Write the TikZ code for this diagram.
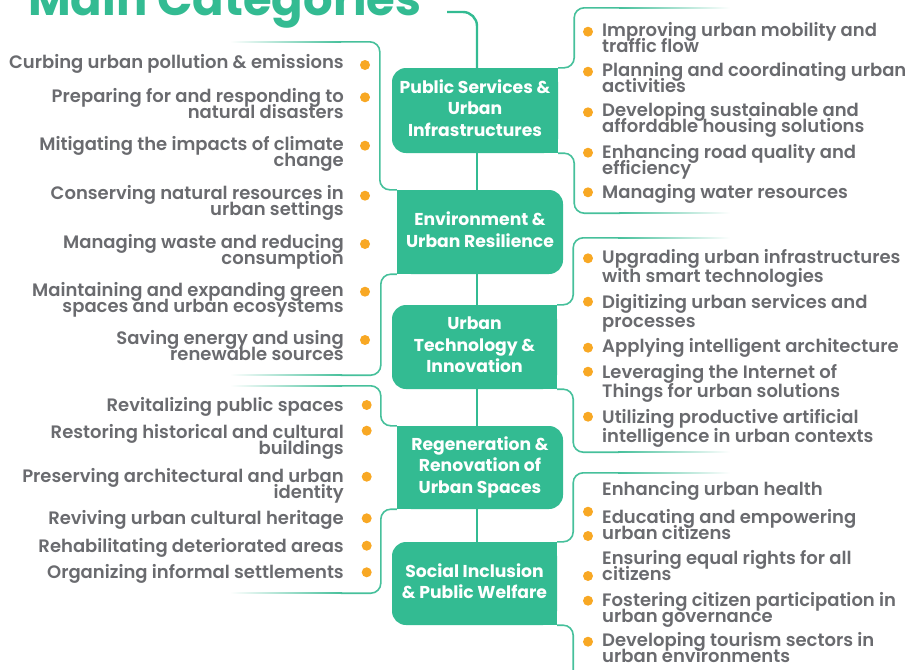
\documentclass[tikz,border=0pt]{standalone}
\usepackage{fontspec}
\setmainfont{Poppins}
\newfontfamily\semib{Poppins SemiBold}
\usetikzlibrary{backgrounds}
\definecolor{grn}{RGB}{51,187,146}
\definecolor{brk}{RGB}{70,192,155}
\definecolor{org}{RGB}{248,168,36}
\definecolor{txt}{RGB}{106,107,111}
\newcommand\fadeR[3]{\shade[left color=brk,right color=white] (#1,#3-0.8) rectangle (#2,#3+0.8);}
\newcommand\fadeL[3]{\shade[left color=white,right color=brk] (#1,#3-0.8) rectangle (#2,#3+0.8);}
\lineskiplimit=-100pt\relax
\begin{document}
\lineskiplimit=-100pt\relax
\begin{tikzpicture}[x=1pt,y=-1pt,
 spineline/.style={draw=grn, line width=2.4pt},
 brkline/.style={draw=brk, line width=1.6pt, rounded corners=10pt},
 catbox/.style={fill=grn, rounded corners=14pt, inner sep=0pt, text=white, align=center, font=\bfseries\fontsize{17.2}{21.5}\selectfont},
 litem/.style={anchor=east, align=right, text=txt, inner sep=0pt, font=\semib\fontsize{18}{16}\selectfont},
 ritem/.style={anchor=west, align=left, text=txt, inner sep=0pt, font=\semib\fontsize{18}{16}\selectfont},
 ritemw/.style={anchor=west, align=left, text=txt, inner sep=0pt, font=\semib\fontsize{18}{19}\selectfont},
 dot/.style={circle, fill=org, inner sep=0pt, minimum size=10pt},
]
\useasboundingbox (0,0) rectangle (906,670);
\clip (0,0) rectangle (906,670);

% title
\node[anchor=base west, inner sep=0pt, text=grn, font=\bfseries\fontsize{46.5}{46.5}\selectfont] (title) at (28,15) {Main Categories};
\coordinate (tstart) at (447,12);
\coordinate (sp) at (477,0);

% category boxes
\node[catbox, minimum width=166pt, minimum height=85pt] (b1) at (475,110.5) {\strut Public Services \&\\Urban\\Infrastructures\strut};
\node[catbox, minimum width=166pt, minimum height=84pt] (b2) at (480,232) {\strut Environment \&\\Urban Resilience\strut};
\node[catbox, minimum width=165pt, minimum height=84pt] (b3) at (474.5,347) {\strut Urban\\Technology \&\\Innovation\strut};
\node[catbox, minimum width=166pt, minimum height=83pt] (b4) at (480,467.5) {\strut Regeneration \&\\Renovation of\\Urban Spaces\strut};
\node[catbox, minimum width=165pt, minimum height=83pt] (b5) at (474.5,583.5) {\strut Social Inclusion\\\& Public Welfare\strut};

\begin{scope}[on background layer]
 \fill[grn] (b1.north east) rectangle ([xshift=-16pt]b1.south east);
 \fill[grn] (b2.north west) rectangle ([xshift=16pt]b2.south west);
 \fill[grn] (b3.north east) rectangle ([xshift=-16pt]b3.south east);
 \fill[grn] (b4.north west) rectangle ([xshift=16pt]b4.south west);
 \fill[grn] (b5.north east) rectangle ([xshift=-16pt]b5.south east);
 % spine
 \draw[spineline, rounded corners=14pt] (tstart) -- (tstart -| sp) -- (b1.north -| sp);
 \draw[spineline] (b1.south -| sp) -- (b2.north -| sp);
 \draw[spineline] (b2.south -| sp) -- (b3.north -| sp);
 \draw[spineline] (b3.south -| sp) -- (b4.north -| sp);
 \draw[spineline] (b4.south -| sp) -- (b5.north -| sp);
\end{scope}

% brackets
\draw[brkline] (b1.north east) -- ++(16,0) -- ++(0,-60) -- ++(46,0) coordinate (rA1);
\fadeR{619}{730}{8}
\draw[brkline] (b1.south east) -- ++(16,0) -- ++(0,60) -- ++(46,0) coordinate (rA2);
\fadeR{619}{730}{213}
\draw[brkline] (b2.north west) -- ++(-17,0) -- ++(0,-148) -- ++(-40,0) coordinate (lB1);
\fadeL{230}{341}{42}
\draw[brkline] (b2.south west) -- ++(-16,0) -- ++(0,101) -- ++(-40,0) coordinate (lB2);
\fadeL{230}{342}{375}
\draw[brkline] (b3.north east) -- ++(16,0) -- ++(0,-67) -- ++(46,0) coordinate (rC1);
\fadeR{618}{730}{238}
\draw[brkline] (b3.south east) -- ++(16,0) -- ++(0,63) -- ++(46,0) coordinate (rC2);
\fadeR{618}{730}{452}
\draw[brkline] (b4.north west) -- ++(-16,0) -- ++(0,-40) -- ++(-40,0) coordinate (lD1);
\fadeL{230}{342}{386}
\draw[brkline] (b4.south west) -- ++(-16,0) -- ++(0,84) -- ++(-40,0) coordinate (lD2);
\fadeL{230}{342}{593}
\draw[brkline] (b5.north east) -- ++(16,0) -- ++(0,-69) -- ++(46,0) coordinate (rE1);
\fadeR{618}{730}{473}
\draw[brkline] (b5.south east) -- ++(16,0) -- ++(0,60) coordinate (rE2);

% left items
\node[litem] (l1) at (344,63.5) {\strut Curbing urban pollution \& emissions\strut};
\node[litem] (l2) at (344,105.5) {\strut Preparing for and responding to\\natural disasters\strut};
\node[litem] (l3) at (344,154) {\strut Mitigating the impacts of climate\\change\strut};
\node[litem] (l4) at (344,202.5) {\strut Conserving natural resources in\\urban settings\strut};
\node[litem] (l5) at (344,251.5) {\strut Managing waste and reducing\\consumption\strut};
\node[litem] (l6) at (344,300) {\strut Maintaining and expanding green\\spaces and urban ecosystems\strut};
\node[litem] (l7) at (344,348) {\strut Saving energy and using\\renewable sources\strut};
\node[litem] (l8) at (344,406.8) {\strut Revitalizing public spaces\strut};
\node[litem] (l9) at (344,442) {\strut Restoring historical and cultural\\buildings\strut};
\node[litem] (l10) at (344,485.5) {\strut Preserving architectural and urban\\identity\strut};
\node[litem] (l11) at (344,520) {\strut Reviving urban cultural heritage\strut};
\node[litem] (l12) at (344,547.5) {\strut Rehabilitating deteriorated areas\strut};
\node[litem] (l13) at (344,573.5) {\strut Organizing informal settlements\strut};

\foreach \y [count=\i] in {65,97.3,145.7,195.7,244,291.7,340}
  \node[dot] (ldA\i) at (365,\y) {};
\foreach \y [count=\i] in {405,430.7,476.7,518.3,545.7,572.3}
  \node[dot] (ldB\i) at (366.7,\y) {};

% right items
\node[ritem] (r1) at (602,39.8) {\strut Improving urban mobility and\\traffic flow\strut};
\node[ritem] (r2) at (602,79.8) {\strut Planning and coordinating urban\\activities\strut};
\node[ritem] (r3) at (602,119.8) {\strut Developing sustainable and\\affordable housing solutions\strut};
\node[ritem] (r4) at (602,161.5) {\strut Enhancing road quality and\\efficiency\strut};
\node[ritem] (r5) at (602,194.1) {\strut Managing water resources\strut};
\node[ritemw] (r6) at (602,269) {\strut Upgrading urban infrastructures\\with smart technologies\strut};
\node[ritemw] (r7) at (602,314) {\strut Digitizing urban services and\\processes\strut};
\node[ritemw] (r8) at (602,347.9) {\strut Applying intelligent architecture\strut};
\node[ritemw] (r9) at (602,384) {\strut Leveraging the Internet of\\Things for urban solutions\strut};
\node[ritemw] (r10) at (602,429) {\strut Utilizing productive artificial\\intelligence in urban contexts\strut};
\node[ritem] (r11) at (602,491.1) {\strut Enhancing urban health\strut};
\node[ritem] (r12) at (602,526.5) {\strut Educating and empowering\\urban citizens\strut};
\node[ritem] (r13) at (602,568.1) {\strut Ensuring equal rights for all\\citizens\strut};
\node[ritem] (r14) at (602,609.8) {\strut Fostering citizen participation in\\urban governance\strut};
\node[ritem] (r15) at (602,649.8) {\strut Developing tourism sectors in\\urban environments\strut};

\foreach \y [count=\i] in {31.7,71.7,112.3,152.7,192.3,258.3,301.7,347.7,371.7,416.7,511.7,536,576,600.7,641.7}
  \node[dot] (rd\i) at (588,\y) {};
\end{tikzpicture}
\end{document}
